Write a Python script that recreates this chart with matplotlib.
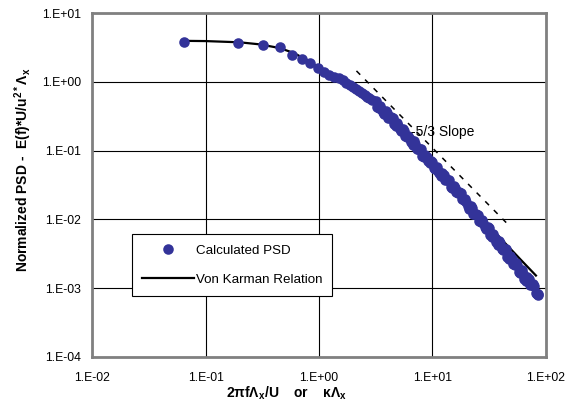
import numpy as np
import matplotlib.pyplot as plt
from matplotlib.ticker import FixedLocator, FuncFormatter, NullLocator

plt.rcParams['font.family'] = ['Liberation Sans', 'DejaVu Sans']
plt.rcParams['mathtext.fontset'] = 'custom'
plt.rcParams['mathtext.default'] = 'regular'

# Calculated PSD
psd_x = [0.0647, 0.194, 0.3235, 0.453, 0.582, 0.712, 0.841, 0.970, 1.100, 1.229,
         1.359, 1.488, 1.617, 1.747, 1.876, 2.006, 2.135, 2.265, 2.394, 2.523,
         2.653, 2.782, 2.911,
         3.162, 3.350, 3.548, 3.758, 3.981, 4.217, 4.467, 4.732, 5.012, 5.309,
         5.623, 5.957, 6.310, 6.683, 7.079, 7.499, 7.943, 8.414, 8.913, 9.441,
         10.00, 10.59, 11.22, 11.89, 12.59, 13.34, 14.13, 14.96, 15.85, 16.79,
         17.78, 18.84, 19.95, 21.13, 22.39, 23.71, 25.12, 26.61, 28.18, 29.85,
         31.62, 33.50, 35.48, 37.58, 39.81, 42.17, 44.67, 47.32, 50.12, 53.09,
         56.23, 59.57, 63.10, 66.83, 70.79, 74.99, 79.43, 84.14, 85.70,
         3.254, 3.448, 3.652, 3.868, 4.097, 4.340, 4.597, 4.870, 5.158, 5.464,
         5.787, 6.131, 6.494, 6.878, 7.286, 7.718, 8.175, 8.660, 9.173, 9.716,
         10.29, 10.90, 11.55, 12.23, 12.96, 13.73, 14.54, 15.40, 16.31, 17.28,
         18.30, 19.39, 20.54, 21.75, 23.04, 24.41, 25.85, 27.39, 29.01, 30.73,
         32.55, 34.48, 36.52, 38.68, 40.97, 43.40, 45.97, 48.70, 51.59, 54.64,
         57.88, 61.31, 64.94, 68.79, 72.86, 77.18, 81.75, 84.90]
psd_y = [3.79, 3.75, 3.46, 3.20, 2.48, 2.17, 1.87, 1.58, 1.40, 1.28,
         1.20, 1.13, 1.06, 0.98, 0.91, 0.84, 0.78, 0.73, 0.68, 0.64,
         0.61, 0.58, 0.55,
         0.521, 0.424, 0.405, 0.340, 0.356, 0.300, 0.300, 0.232, 0.229, 0.192,
         0.195, 0.156, 0.147, 0.122, 0.126, 0.105, 0.105, 0.0811, 0.0800, 0.0670,
         0.0676, 0.0543, 0.0513, 0.0428, 0.0443, 0.0368, 0.0368, 0.0286, 0.0283, 0.0238,
         0.0239, 0.0189, 0.0176, 0.01435, 0.01462, 0.01197, 0.01175, 0.0090, 0.00875, 0.00726,
         0.00741, 0.00561, 0.00533, 0.00428, 0.00457, 0.00363, 0.00364, 0.00264, 0.00261, 0.00215,
         0.00219, 0.00166, 0.00158, 0.00128, 0.00134, 0.00109, 0.00106, 0.000832, 0.000794,
         0.434, 0.454, 0.369, 0.382, 0.300, 0.305, 0.242, 0.250, 0.205, 0.205,
         0.161, 0.166, 0.133, 0.136, 0.105, 0.1065, 0.0845, 0.0873, 0.0716, 0.0713,
         0.0559, 0.0579, 0.0466, 0.0477, 0.0370, 0.0375, 0.0298, 0.0308, 0.0254, 0.0253,
         0.0196, 0.0200, 0.0158, 0.0159, 0.0121, 0.0121, 0.00943, 0.00962, 0.00779, 0.00777,
         0.00588, 0.00614, 0.00475, 0.00490, 0.00365, 0.00370, 0.00281, 0.00295, 0.00221, 0.00230,
         0.00172, 0.00183, 0.00137, 0.00144, 0.00110, 0.00114, 0.000845, 0.000813]

# Von Karman relation
vk_x = [0.0647, 0.1, 0.2, 0.3, 0.45, 0.6, 0.8, 1.0, 1.5, 2, 3, 5, 8, 12, 20, 30, 45, 60, 82]
vk_y = [3.97, 3.94, 3.78, 3.53, 3.12, 2.64, 2.05, 1.62, 1.10, 0.80, 0.50, 0.21, 0.097,
        0.044, 0.0177, 0.0088, 0.0043, 0.0026, 0.00152]

# -5/3 slope reference line
slope_x = [2.14, 48]
slope_y = [1.45, 0.0080]

x_ticks = [1e-2, 1e-1, 1e0, 1e1, 1e2]
y_ticks = [1e-4, 1e-3, 1e-2, 1e-1, 1e0, 1e1]

fig = plt.figure(figsize=(5.82, 4.04), dpi=100)
ax = fig.add_axes([92.3 / 582, 1 - 356.7 / 404, 453.4 / 582, 343.4 / 404])

ax.plot(vk_x, vk_y, color='black', lw=1.6, zorder=2, label='Von Karman Relation')
ax.plot(psd_x, psd_y, ls='none', marker='o', ms=7.6, mfc='#333399', mec='#333399',
        mew=0, zorder=3, label='Calculated PSD')
ax.plot(slope_x, slope_y, color='black', lw=1.1, ls=(0, (3.5, 4.5)), zorder=4)
ax.text(6.5, 0.188, '-5/3 Slope', fontsize=10, ha='left', va='center', zorder=5)

ax.set_xscale('log')
ax.set_yscale('log')
ax.set_xlim(1e-2, 1e2)
ax.set_ylim(1e-4, 1e1)

fmt = FuncFormatter(lambda v, p: f"1.E{int(round(np.log10(v))):+03d}")
ax.xaxis.set_major_locator(FixedLocator(x_ticks))
ax.yaxis.set_major_locator(FixedLocator(y_ticks))
ax.xaxis.set_minor_locator(NullLocator())
ax.yaxis.set_minor_locator(NullLocator())
ax.xaxis.set_major_formatter(fmt)
ax.yaxis.set_major_formatter(fmt)
ax.tick_params(length=0, labelsize=8.8, pad=8)
ax.tick_params(axis='x', pad=11)
ax.grid(True, color='black', lw=0.8)
ax.set_axisbelow(True)
for s in ax.spines.values():
    s.set_color('#808080')
    s.set_linewidth(2)

handles, labels = ax.get_legend_handles_labels()
leg = ax.legend(handles[::-1], labels[::-1], loc='upper left',
                bbox_to_anchor=(131.7 / 582, 1 - 234.3 / 404),
                bbox_transform=fig.transFigure, fontsize=9.6, frameon=True,
                fancybox=False, edgecolor='black', framealpha=1,
                handlelength=3.9, handletextpad=0.15, labelspacing=1.25,
                borderpad=0.75, borderaxespad=0)
leg.get_frame().set_linewidth(0.8)

fig.text(23 / 582, 1 - 170 / 404,
         r'Normalized PSD -  E(f)*U/u$^{2*}$$\Lambda_x$',
         rotation=90, ha='center', va='center', fontsize=10, fontweight='bold')
fig.text(287 / 582, 1 - 393 / 404,
         r'2πfΛ$_x$/U    or    κΛ$_x$',
         ha='center', va='center', fontsize=10, fontweight='bold')

fig.savefig('out.png', dpi=100)
